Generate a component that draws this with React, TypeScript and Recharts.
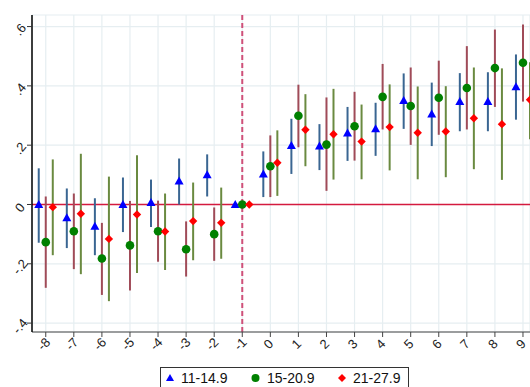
import { ScatterChart, Scatter, XAxis, YAxis, CartesianGrid, ReferenceLine, ErrorBar } from 'recharts';

const periods = [-8, -7, -6, -5, -4, -3, -2, -1, 0, 1, 2, 3, 4, 5, 6, 7, 8, 9];

// 11-14.9
const lowEst = [0, -0.045, -0.073, 0, 0.007, 0.079, 0.1, 0, 0.103, 0.199, 0.197, 0.241, 0.255, 0.351, 0.305, 0.347, 0.347, 0.397];
const lowLo = [-0.129, -0.147, -0.171, -0.093, -0.076, 0, 0.027, 0, 0.025, 0.103, 0.116, 0.147, 0.164, 0.255, 0.197, 0.247, 0.247, 0.286];
const lowHi = [0.122, 0.054, 0.021, 0.091, 0.084, 0.155, 0.169, 0, 0.179, 0.289, 0.271, 0.329, 0.343, 0.442, 0.411, 0.443, 0.446, 0.506];

// 15-20.9
const midEst = [-0.127, -0.09, -0.182, -0.138, -0.09, -0.151, -0.1, 0, 0.129, 0.299, 0.202, 0.264, 0.363, 0.332, 0.36, 0.393, 0.46, 0.478];
const midLo = [-0.281, -0.218, -0.305, -0.29, -0.193, -0.243, -0.19, 0, 0.025, 0.193, 0.046, 0.148, 0.253, 0.201, 0.235, 0.253, 0.329, 0.347];
const midHi = [0.027, 0.037, -0.062, 0.012, 0.013, -0.057, -0.01, 0, 0.233, 0.404, 0.361, 0.38, 0.474, 0.462, 0.485, 0.534, 0.59, 0.607];

// 21-27.9
const highEst = [-0.009, -0.031, -0.116, -0.034, -0.091, -0.056, -0.062, 0, 0.141, 0.252, 0.237, 0.212, 0.261, 0.242, 0.246, 0.291, 0.271, 0.353];
const highLo = [-0.171, -0.235, -0.326, -0.231, -0.221, -0.188, -0.183, 0, 0.029, 0.129, 0.084, 0.085, 0.115, 0.085, 0.092, 0.119, 0.083, 0.22];
const highHi = [0.152, 0.171, 0.094, 0.166, 0.037, 0.074, 0.057, 0, 0.25, 0.372, 0.39, 0.337, 0.405, 0.398, 0.399, 0.462, 0.459, 0.48];

const yTicks = [-0.4, -0.2, 0, 0.2, 0.4, 0.6];

const buildRows = (est: number[], lo: number[], hi: number[], shift: number) =>
  periods.map((p, i) => ({ x: p + shift, y: est[i], err: [est[i] - lo[i], hi[i] - est[i]] }));

const lowRows = buildRows(lowEst, lowLo, lowHi, -0.25);
const midRows = buildRows(midEst, midLo, midHi, 0);
const highRows = buildRows(highEst, highLo, highHi, 0.25);

const font = '"Liberation Sans", Arial, sans-serif';

const fmtY = (v: number) => {
  if (Math.abs(v) < 1e-9) return '0';
  return (v < 0 ? '-' : '') + Math.abs(v).toFixed(1).replace(/^0/, '');
};

const XTick = ({ x, y, payload }: any) => (
  <text x={x - 2} y={y + 7} transform={`rotate(-45 ${x - 2} ${y + 7})`} textAnchor="middle"
    dominantBaseline="central" fontSize={13} fontFamily={font} fill="#222">
    {payload.value}
  </text>
);

const YTick = ({ x, y, payload }: any) => (
  <text x={x - 7} y={y + 3} transform={`rotate(-50 ${x - 7} ${y + 3})`} textAnchor="middle"
    dominantBaseline="central" fontSize={13} fontFamily={font} fill="#222">
    {fmtY(payload.value)}
  </text>
);

const Triangle = ({ cx, cy }: any) => (
  <polygon points={`${cx},${cy - 4.5} ${cx + 4.5},${cy + 3.5} ${cx - 4.5},${cy + 3.5}`} fill="#0000ff" />
);
const Dot = ({ cx, cy }: any) => <circle cx={cx} cy={cy} r={4.3} fill="#008000" />;
const Diamond = ({ cx, cy }: any) => (
  <polygon points={`${cx},${cy - 4.2} ${cx + 4.2},${cy} ${cx},${cy + 4.2} ${cx - 4.2},${cy}`} fill="#ff0000" />
);

const legendText = { position: 'absolute' as const, top: 369, fontSize: 14, fontFamily: font, color: '#111', lineHeight: '18px' };

export default function App() {
  return (
    <div style={{ position: 'absolute', left: 0, top: 0, width: 530, height: 387, background: '#fff', overflow: 'hidden' }}>
      <ScatterChart width={530} height={387} margin={{ top: 15, right: 0, bottom: 0, left: 0 }}>
        <CartesianGrid stroke="#e6eef1" strokeWidth={1.2} />
        <XAxis type="number" dataKey="x" domain={[-8.49, 9.25]} ticks={periods} allowDataOverflow
          height={55} tickSize={5} tickMargin={0} tick={<XTick />} interval={0}
          axisLine={{ stroke: '#444' }} tickLine={{ stroke: '#444' }} />
        <YAxis type="number" dataKey="y" domain={[-0.43, 0.639]} ticks={yTicks} allowDataOverflow
          width={32} tickSize={5} tickMargin={0} tick={<YTick />} interval={0}
          axisLine={{ stroke: '#000', strokeWidth: 1.5 }} tickLine={{ stroke: '#333' }} />
        <ReferenceLine y={0} stroke="#d41a3f" strokeWidth={1.5} />
        <ReferenceLine x={-1} stroke="#cf5079" strokeWidth={2} strokeDasharray="5 3" />
        <Scatter data={lowRows} shape={<Triangle />} isAnimationActive={false}>
          <ErrorBar dataKey="err" direction="y" width={0} stroke="#3a6692" strokeWidth={2} />
        </Scatter>
        <Scatter data={midRows} shape={<Dot />} isAnimationActive={false}>
          <ErrorBar dataKey="err" direction="y" width={0} stroke="#a04b58" strokeWidth={2} />
        </Scatter>
        <Scatter data={highRows} shape={<Diamond />} isAnimationActive={false}>
          <ErrorBar dataKey="err" direction="y" width={0} stroke="#6a8a40" strokeWidth={2} />
        </Scatter>
      </ScatterChart>
      <div style={{ position: 'absolute', left: 160, top: 367, width: 249, height: 30, border: '1px solid #333', boxSizing: 'border-box' }} />
      <svg style={{ position: 'absolute', left: 0, top: 0, pointerEvents: 'none' }} width={530} height={387}>
        <polygon points="170,374 174,381 166,381" fill="#0000ff" />
        <circle cx={255.5} cy={378} r={4} fill="#008000" />
        <polygon points="342,374 346,378 342,382 338,378" fill="#ff0000" />
      </svg>
      <span style={{ ...legendText, left: 181 }}>11-14.9</span>
      <span style={{ ...legendText, left: 267 }}>15-20.9</span>
      <span style={{ ...legendText, left: 353 }}>21-27.9</span>
    </div>
  );
}
